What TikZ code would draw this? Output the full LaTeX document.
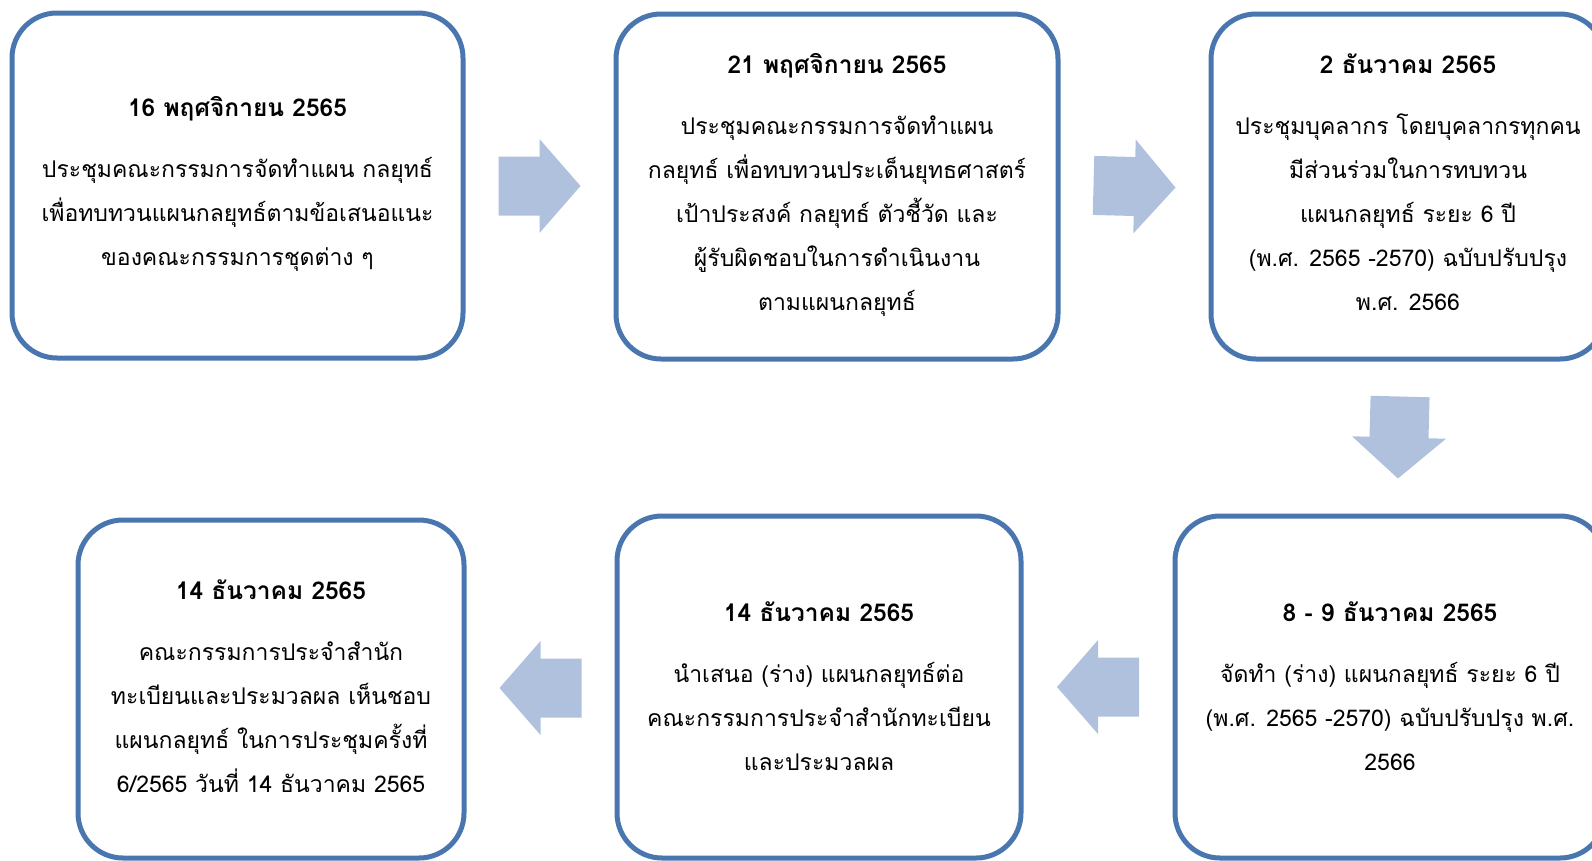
\documentclass[tikz,border=0pt]{standalone}
\usepackage{fontspec}
\newfontfamily\thaifont[Script=Thai]{Loma}
\usetikzlibrary{calc}
\definecolor{boxblue}{RGB}{74,118,175}
\definecolor{arrowblue}{RGB}{176,193,222}
\newcommand{\ttl}[1]{{\fontsize{24.5}{44}\selectfont\bfseries\strut #1}}
\newcommand{\lst}[2][13.2pt]{#2\strut\rule[-#1]{0pt}{#1}}
\begin{document}
\begin{tikzpicture}[x=1pt,y=-1pt,
  stepbox/.style={draw=boxblue, line width=5pt, rounded corners=45pt, fill=white,
    align=center, inner sep=0pt, outer sep=0pt, text=black,
    font=\thaifont\fontsize{23}{44}\selectfont},
  pics/blockarrow/.style={code={\fill[arrowblue] (-41,-29.5) -- (0,-29.5) -- (0,-47) -- (41,0) -- (0,47) -- (0,29.5) -- (-41,29.5) -- cycle;}}]
\useasboundingbox (0,0) rectangle (1592,860);
\clip (0,0) rectangle (1592,860);

\node[stepbox, minimum width=451pt, minimum height=345pt] (b1) at (237.5,185.5)
  {\ttl{16 พฤศจิกายน 2565}\\[17pt]
   ประชุมคณะกรรมการจัดทำแผน กลยุทธ์\\
   เพื่อทบทวนแผนกลยุทธ์ตามข้อเสนอแนะ\\
   \lst[19.2pt]{ของคณะกรรมการชุดต่าง ๆ}};

\node[stepbox, minimum width=442pt, minimum height=345pt] (b2) at (837,186.5)
  {\ttl{21 พฤศจิกายน 2565}\\[17pt]
   ประชุมคณะกรรมการจัดทำแผน\\
   กลยุทธ์ เพื่อทบทวนประเด็นยุทธศาสตร์\\
   เป้าประสงค์ กลยุทธ์ ตัวชี้วัด และ\\
   ผู้รับผิดชอบในการดำเนินงาน\\
   \lst[19.2pt]{ตามแผนกลยุทธ์}};

\node[stepbox, minimum width=394pt, minimum height=345pt] (b3) at (1408,186.5)
  {\ttl{2 ธันวาคม 2565}\\[17pt]
   ประชุมบุคลากร โดยบุคลากรทุกคน\\
   มีส่วนร่วมในการทบทวน\\
   แผนกลยุทธ์ ระยะ 6 ปี\\
   (พ.ศ. 2565 -2570) ฉบับปรับปรุง\\
   \lst[19.2pt]{พ.ศ. 2566}};

\node[stepbox, minimum width=430pt, minimum height=342pt] (b4) at (1390,687)
  {\ttl{8 - 9 ธันวาคม 2565}\\[17pt]
   จัดทำ (ร่าง) แผนกลยุทธ์ ระยะ 6 ปี\\
   (พ.ศ. 2565 -2570) ฉบับปรับปรุง พ.ศ.\\
   \lst{2566}};

\node[stepbox, minimum width=404pt, minimum height=342pt] (b5) at (819,687)
  {\ttl{14 ธันวาคม 2565}\\[17pt]
   นำเสนอ (ร่าง) แผนกลยุทธ์ต่อ\\
   คณะกรรมการประจำสำนักทะเบียน\\
   \lst{และประมวลผล}};

\node[stepbox, minimum width=386pt, minimum height=338pt] (b6) at (271,689)
  {\ttl{14 ธันวาคม 2565}\\[17pt]
   คณะกรรมการประจำสำนัก\\
   ทะเบียนและประมวลผล เห็นชอบ\\
   แผนกลยุทธ์ ในการประชุมครั้งที่\\
   \lst[17.2pt]{6/2565 วันที่ 14 ธันวาคม 2565}};

\pic at ($(b1.east)!0.5!(b2.west)$) {blockarrow};
\pic[rotate=-1.5] at ($(b2.east)!0.5!(b3.west)$) {blockarrow};
\pic[rotate=-91.5] at ($(b3.south)!0.5!(b4.north)$) {blockarrow};
\pic[rotate=180] at ($(b4.west)!0.5!(b5.east)$) {blockarrow};
\pic[rotate=180] at ($(b5.west)!0.5!(b6.east)$) {blockarrow};
\end{tikzpicture}
\end{document}
